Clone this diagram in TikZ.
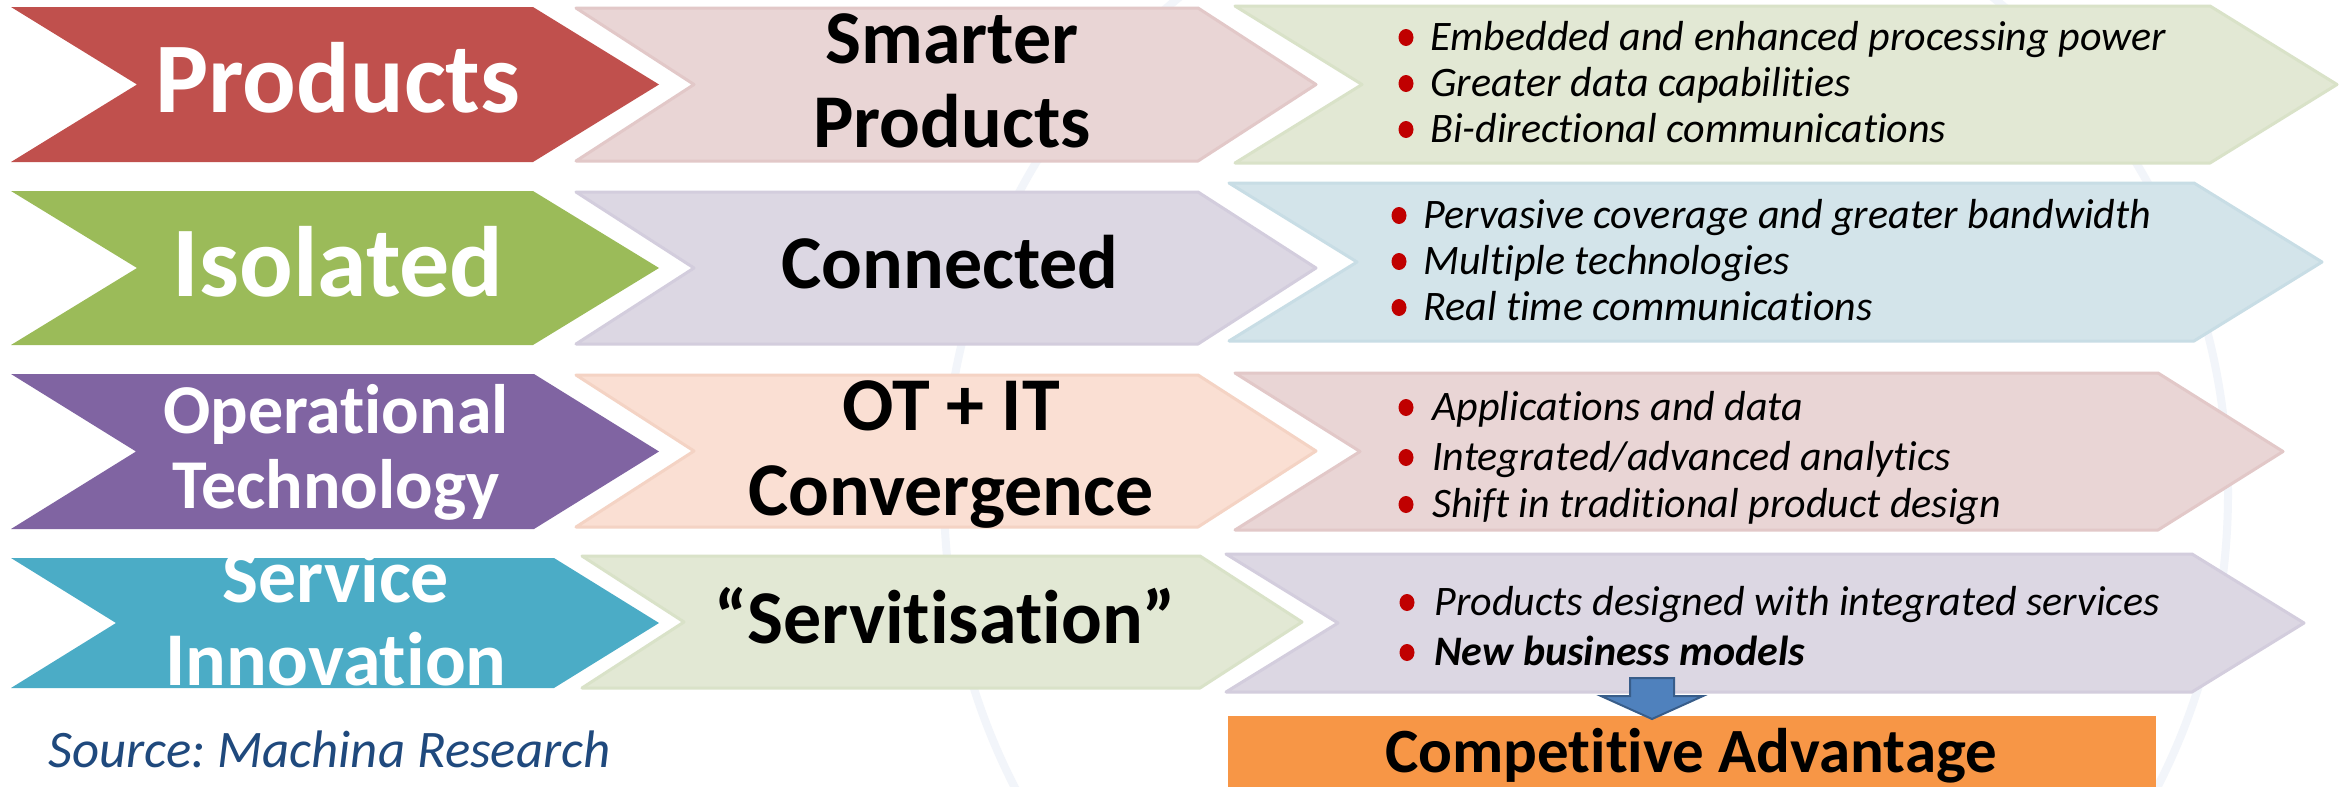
\documentclass[tikz,border=0pt]{standalone}
\usepackage{fontspec}
\setmainfont{Carlito}[Ligatures=NoCommon]
\frenchspacing
\usetikzlibrary{calc}
\definecolor{cred}{HTML}{C0504D}
\definecolor{cgreen}{HTML}{9BBB59}
\definecolor{cpurple}{HTML}{8064A2}
\definecolor{cteal}{HTML}{4BACC6}
\definecolor{lpink}{HTML}{E9D5D5}\definecolor{lpinkb}{HTML}{E2C8C8}
\definecolor{llav}{HTML}{DCD7E3}\definecolor{llavb}{HTML}{D3CDDD}
\definecolor{lpeach}{HTML}{FADFD3}\definecolor{lpeachb}{HTML}{F4D3C4}
\definecolor{lgreen}{HTML}{E2E8D4}\definecolor{lgreenb}{HTML}{D9E2C8}
\definecolor{lblue}{HTML}{D3E4EA}\definecolor{lblueb}{HTML}{C8DDE5}
\definecolor{bulred}{HTML}{C00000}
\definecolor{srcblue}{HTML}{1F497D}
\definecolor{advorange}{HTML}{F79646}
\definecolor{arrblue}{HTML}{4F81BD}
\definecolor{arrblueb}{HTML}{385D8A}
\definecolor{wmark}{HTML}{F2F5FA}
\newcommand\chevpath[7]{%
  \path[fill=#1,draw=#2,line width=1.5pt,line join=round] (#3,#4) -- ({#6-#7},#4) -- (#6,{(#4+#5)/2}) -- ({#6-#7},#5) -- (#3,#5) -- ({#3+#7},{(#4+#5)/2}) -- cycle;}
\newcommand\bitem[6][]{%
  \node[dot] (#2d) at (#3,{#5-12.5}) {};
  \node[bul,#1] (#2) at (#4,#5) {#6};}
\tikzset{
  biglbl/.style={font=\fontsize{50}{50}\selectfont\bfseries, text=white, inner sep=0, anchor=base},
  midlbl/.style={font=\fontsize{38}{40}\selectfont\bfseries, text=black, inner sep=0, anchor=base},
  bul/.style={font=\fontsize{21}{24}\selectfont\itshape, anchor=base west, inner sep=0},
  dot/.style={ellipse, fill=bulred, minimum width=7.5pt, minimum height=8.5pt, inner sep=0},
}
\usetikzlibrary{shapes.geometric}
\begin{document}
\begin{tikzpicture}[x=0.5pt,y=-0.5pt]
\fill[white] (0,0) rectangle (2346,787);
\useasboundingbox (0,0) rectangle (2346,787);
% faint watermark
\draw[wmark,line width=4pt] (1586,494) circle[radius=321pt];
% row 1
\chevpath{cred}{none}{11}{7}{162}{659}{126}
\chevpath{lpink}{lpinkb}{576}{8}{161}{1316}{118}
\chevpath{lgreen}{lgreenb}{1235}{6}{163}{2337}{127}
% row 2
\chevpath{cgreen}{none}{11}{191}{345}{659}{126}
\chevpath{llav}{llavb}{576}{192}{344}{1316}{118}
\chevpath{lblue}{lblueb}{1229}{183}{341}{2322}{128}
% row 3
\chevpath{cpurple}{none}{11}{374}{529}{659}{125}
\chevpath{lpeach}{lpeachb}{576}{375}{527}{1316}{118}
\chevpath{lpink}{lpinkb}{1235}{373}{530}{2283}{125}
% row 4
\chevpath{cteal}{none}{11}{558}{688}{659}{105}
\chevpath{lgreen}{lgreenb}{582}{556}{688}{1302}{102}
\chevpath{llav}{llavb}{1226}{554}{692}{2304}{112}
% left labels
\node[biglbl] (products) at (338,112) {Products};
\node[biglbl] (isolated) at (338,296) {Isolated};
\node[biglbl,font=\fontsize{35}{35}\selectfont\bfseries] (oper) at (336,433) {Operational};
\node[biglbl,font=\fontsize{35}{35}\selectfont\bfseries] (tech) at (336,508) {Technology};
\node[biglbl,font=\fontsize{38}{38}\selectfont\bfseries] (service) at (336,602) {Service};
\node[biglbl,font=\fontsize{38}{38}\selectfont\bfseries] (innov) at (336,685) {Innovation};
% middle labels
\node[midlbl] (smarter) at (952,63) {Smarter};
\node[midlbl] (smartprod) at (952,147) {Products};
\node[midlbl] (connected) at (950,288) {Connected};
\node[midlbl] (otit) at (951,430) {OT + IT};
\node[midlbl] (conv) at (951,515) {Convergence};
\node[midlbl] (servit) at (945,643) {“Servitisation”};
% bullets row 1
\bitem{b11}{1406}{1430}{50}{Embedded and enhanced processing power}
\bitem{b12}{1406}{1430}{96}{Greater data capabilities}
\bitem{b13}{1406}{1430}{142}{Bi-directional communications}
% bullets row 2
\bitem{b21}{1399}{1423}{228}{Pervasive coverage and greater bandwidth}
\bitem{b22}{1399}{1423}{274}{Multiple technologies}
\bitem{b23}{1399}{1423}{320}{Real time communications}
% bullets row 3
\bitem{b31}{1406}{1432}{420}{Applications and data}
\bitem{b32}{1406}{1432}{470}{Integrated/advanced analytics}
\bitem{b33}{1406}{1432}{517}{Shift in traditional product design}
% bullets row 4
\bitem{b41}{1407}{1434}{615}{Products designed with integrated services}
\bitem[font=\fontsize{21}{24}\selectfont\bfseries\itshape]{b42}{1407}{1434}{665}{New business models}
% source
\node[font=\fontsize{26.4}{28}\selectfont\itshape, text=srcblue, anchor=base west, inner sep=0] (source) at (48,767) {Source: Machina Research};
% competitive advantage box
\node[fill=advorange, anchor=north west, minimum width=464pt, minimum height=36pt, inner sep=0] (adv) at (1228,716) {};
\node[font=\fontsize{31.5}{33}\selectfont\bfseries, anchor=base, inner sep=0] (advtext) at (1691,772) {Competitive Advantage};
% block arrow from bullets to box
\coordinate (arrtip) at (1652,719);
\path[fill=arrblue, draw=arrblueb, line width=1pt, line join=miter]
  (arrtip) -- ++(-51,-23) -- ++(29,0) -- ++(0,-18) -- ++(44,0) -- ++(0,18) -- ++(29,0) -- cycle;
\end{tikzpicture}
\end{document}
